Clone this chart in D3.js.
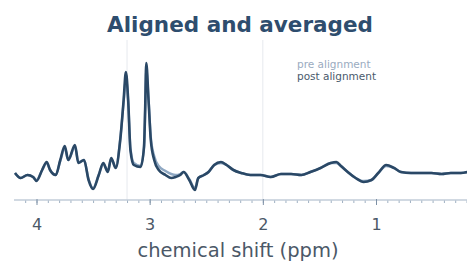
<!DOCTYPE html>
<html>
<head>
<meta charset="utf-8">
<script src="https://cdn.jsdelivr.net/npm/d3@7"></script>
<style>
  html, body { margin: 0; padding: 0; background: #fff; }
</style>
</head>
<body>
<div id="chart"></div>
<script>
// chemical shift positions (ppm)
var ppm = [4.19, 4.14, 4.08, 4.03, 4.00, 3.95, 3.91, 3.88, 3.83, 3.79, 3.75, 3.72, 3.66, 3.63,
  3.58, 3.54, 3.50, 3.45, 3.41, 3.37, 3.34, 3.30, 3.26, 3.23, 3.21, 3.19, 3.17, 3.14, 3.08,
  3.05, 3.04, 3.03, 3.01, 2.99, 2.96, 2.92, 2.86, 2.81, 2.77, 2.73, 2.70, 2.65, 2.60, 2.57,
  2.52, 2.48, 2.43, 2.37, 2.32, 2.26, 2.19, 2.11, 2.02, 1.93, 1.84, 1.75, 1.66, 1.58, 1.49,
  1.40, 1.35, 1.31, 1.25, 1.18, 1.11, 1.04, 0.98, 0.91, 0.84, 0.78, 0.69, 0.60, 0.51, 0.42,
  0.34, 0.25, 0.19];
var postAlign = [0.02, -0.03, 0.00, -0.02, -0.06, 0.05, 0.13, 0.05, 0.00, 0.15, 0.29, 0.15, 0.30, 0.12,
  0.15, -0.05, -0.14, 0.00, 0.12, 0.03, 0.17, 0.07, 0.35, 0.75, 1.03, 0.75, 0.25, 0.10, 0.08,
  0.28, 0.65, 1.12, 0.75, 0.35, 0.15, 0.05, 0.00, -0.03, -0.02, 0.00, 0.03, -0.05, -0.15, -0.03,
  0.00, 0.03, 0.10, 0.13, 0.10, 0.05, 0.02, 0.00, 0.00, -0.02, 0.01, 0.01, 0.00, 0.03, 0.07,
  0.12, 0.13, 0.09, 0.03, -0.03, -0.07, -0.05, 0.02, 0.10, 0.07, 0.03, 0.02, 0.02, 0.02, 0.01,
  0.02, 0.02, 0.03];
var preAlign = [0.02, -0.03, 0.00, -0.02, -0.05, 0.05, 0.12, 0.05, 0.00, 0.14, 0.27, 0.15, 0.28, 0.13,
  0.15, -0.04, -0.13, 0.00, 0.11, 0.04, 0.16, 0.08, 0.36, 0.73, 0.97, 0.74, 0.27, 0.12, 0.09,
  0.28, 0.63, 1.05, 0.76, 0.38, 0.19, 0.09, 0.04, 0.01, 0.00, 0.01, 0.03, -0.04, -0.13, -0.03,
  0.00, 0.03, 0.10, 0.12, 0.10, 0.05, 0.02, 0.00, 0.00, -0.02, 0.01, 0.01, 0.00, 0.03, 0.07,
  0.12, 0.12, 0.09, 0.03, -0.03, -0.06, -0.05, 0.02, 0.09, 0.07, 0.03, 0.02, 0.02, 0.02, 0.01,
  0.02, 0.02, 0.03];
var tickValues = [4, 3, 2, 1];
var markerLines = [3.2, 2.0];
var legendLabels = ["pre alignment", "post alignment"];

var width = 467, height = 271;
var axisY = 200;

var svg = d3.select("#chart").append("svg")
  .attr("width", width)
  .attr("height", height)
  .style("font-family", "'DejaVu Sans', sans-serif");

var x = d3.scaleLinear().domain([4, 1]).range([36.5, 376]);
var y = d3.scaleLinear().domain([0, 1]).range([175, 75]);

svg.append("text")
  .attr("x", 240)
  .attr("y", 32)
  .attr("text-anchor", "middle")
  .style("font-size", "21.5px")
  .style("font-weight", "bold")
  .style("fill", "#2e4d6e")
  .text("Aligned and averaged");

// faint reference lines
svg.selectAll("line.marker")
  .data(markerLines).enter()
  .append("line")
  .attr("class", "marker")
  .attr("x1", function (d) { return x(d); })
  .attr("x2", function (d) { return x(d); })
  .attr("y1", 40)
  .attr("y2", axisY)
  .style("stroke", "#e6e9ee")
  .style("stroke-width", "1px");

// axis: domain line, minor ticks every 0.1 ppm
var minor = d3.range(2, 42).map(function (i) { return i / 10; });
var xAxis = d3.axisBottom(x)
  .tickValues(minor)
  .tickSize(3)
  .tickFormat("");
var ax = svg.append("g")
  .attr("transform", "translate(0," + axisY + ")")
  .call(xAxis);
ax.select(".domain").remove();
ax.selectAll(".tick line").style("stroke", "#9fb0c2");
ax.append("line")
  .attr("x1", 14).attr("x2", width)
  .attr("y1", 0).attr("y2", 0)
  .style("stroke", "#c2ccd8")
  .style("stroke-width", "1.5px");

var major = svg.append("g")
  .attr("transform", "translate(0," + axisY + ")")
  .call(d3.axisBottom(x).tickValues(tickValues).tickFormat(d3.format("d")).tickSize(5).tickPadding(14));
major.select(".domain").remove();
major.selectAll(".tick line").style("stroke", "#7d90a5").attr("y1", -1);
major.selectAll(".tick text")
  .style("font-size", "16px")
  .style("fill", "#4b5867")
  .style("font-family", "'DejaVu Sans', sans-serif");

svg.append("text")
  .attr("x", 238)
  .attr("y", 257)
  .attr("text-anchor", "middle")
  .style("font-size", "19.5px")
  .style("fill", "#4b5867")
  .text("chemical shift (ppm)");

var line = d3.line()
  .x(function (d) { return x(d[0]); })
  .y(function (d) { return y(d[1]); })
  .curve(d3.curveMonotoneX);

svg.append("path")
  .datum(d3.zip(ppm, preAlign))
  .attr("fill", "none")
  .attr("d", line)
  .style("stroke", "#8fa8c3")
  .style("stroke-width", "2.4px")
  .style("stroke-linejoin", "round");

svg.append("path")
  .datum(d3.zip(ppm, postAlign))
  .attr("fill", "none")
  .attr("d", line)
  .style("stroke", "#2a4866")
  .style("stroke-width", "2.6px")
  .style("stroke-linejoin", "round");

svg.selectAll("text.legend")
  .data(legendLabels).enter()
  .append("text")
  .attr("class", "legend")
  .attr("x", 297)
  .attr("y", function (d, i) { return 68 + i * 12; })
  .style("font-size", "10.5px")
  .style("fill", function (d, i) { return i === 0 ? "#9aabbf" : "#4a5a6c"; })
  .text(function (d) { return d; });
</script>
</body>
</html>
